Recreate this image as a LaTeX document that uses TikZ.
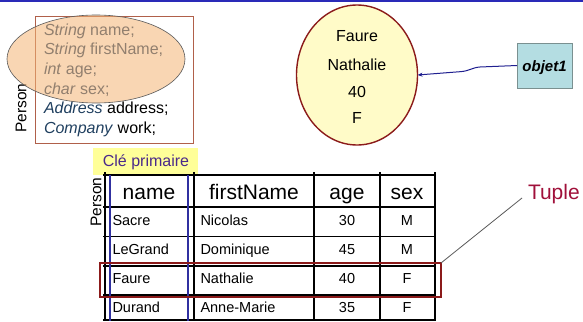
\documentclass[tikz,border=0pt]{standalone}
\usepackage{fontspec}
\setmainfont{Liberation Sans}
\usetikzlibrary{shapes.geometric,arrows.meta}
\definecolor{topblue}{HTML}{2A2AB8}
\definecolor{classbrown}{HTML}{B0604A}
\definecolor{typeblue}{HTML}{1F3F5F}
\definecolor{undertxt}{HTML}{1A3F66}
\definecolor{hlorange}{HTML}{F4B475}
\definecolor{darkred}{HTML}{8B1A1A}
\definecolor{objyellow}{HTML}{FFFBC8}
\definecolor{objteal}{HTML}{B4DDE2}
\definecolor{objborder}{HTML}{7A9090}
\definecolor{arrowblue}{HTML}{202090}
\definecolor{keyyellow}{HTML}{FFFF99}
\definecolor{keypurple}{HTML}{4B2A8A}
\definecolor{tuplered}{HTML}{A0103A}
\definecolor{pkblue}{HTML}{3030A0}
\begin{document}
\begin{tikzpicture}[x=1pt,y=-1pt,
  every node/.style={inner sep=0pt,outer sep=0pt},
  classtxt/.style={anchor=base west,font=\fontsize{16}{18}\selectfont},
  ovaltxt/.style={anchor=base,font=\fontsize{16}{18}\selectfont},
  headtxt/.style={anchor=base,font=\fontsize{21}{24}\selectfont},
  celltxt/.style={anchor=base west,font=\fontsize{14.5}{16}\selectfont},
  cellctr/.style={anchor=base,font=\fontsize{14.5}{16}\selectfont},
  persontxt/.style={rotate=90,font=\fontsize{15.5}{17}\selectfont},
  tline/.style={line width=1.1pt,black},
  pkline/.style={line width=1.3pt,pkblue}]
\useasboundingbox (0,0) rectangle (583,321);
\fill[topblue] (0,0) rectangle (583,2.5);
% class box
\node[draw=classbrown,line width=0.8pt,minimum width=158pt,minimum height=127pt,anchor=north west] (classbox) at (35,16) {};
\node[classtxt,text=undertxt] (c1) at (44,35.5) {\textit{String} name;};
\node[classtxt,text=undertxt] (c2) at (44,55) {\textit{String} firstName;};
\node[classtxt,text=undertxt] (c3) at (44,74.5) {\textit{int} age;};
\node[classtxt,text=undertxt] (c4) at (44,94) {\textit{char} sex;};
\node[classtxt] (c5) at (44,113.5) {\textcolor{typeblue}{\textit{Address}} address;};
\node[classtxt] (c6) at (44,133) {\textcolor{typeblue}{\textit{Company}} work;};
\node[persontxt] (person1) at (21,108) {Person};
\node[ellipse,draw=gray!70!black,line width=0.6pt,fill=hlorange,fill opacity=0.55,minimum width=178pt,minimum height=88pt] (hl) at (96,59) {};
% object
\node[ellipse,draw=darkred,line width=1.4pt,fill=objyellow,minimum width=121pt,minimum height=140pt] (obj) at (357,75) {};
\node[ovaltxt] (o1) at (357,41.7) {Faure};
\node[ovaltxt] (o2) at (357,70.5) {Nathalie};
\node[ovaltxt] (o3) at (357,97) {40};
\node[ovaltxt] (o4) at (357,123.3) {F};
\node[draw=objborder,line width=0.8pt,fill=objteal,minimum width=55pt,minimum height=45pt] (objet) at (544.5,65.5) {};
\node[anchor=base,font=\fontsize{15}{17}\selectfont\bfseries\itshape] (objettxt) at (544.5,71) {objet1};
\draw[arrowblue,line width=1pt,-{Stealth[length=5pt,width=4pt]}] (objet.west) -- (480,67) .. controls (472,67.5) and (470,71) .. (460,71.7) -- (obj.east);
% primary key label
\node[fill=keyyellow,minimum width=105pt,minimum height=27pt,anchor=north west] (keybox) at (93,148) {};
\node[anchor=base,text=keypurple,font=\fontsize{16}{18}\selectfont] (keytxt) at (146,166.7) {Clé primaire};
% table
\foreach \yy in {175,207,236.5,266,295,320} \draw[tline] (103,\yy) -- (435,\yy);
\foreach \xx in {105,194,314,380,435} \draw[tline] (\xx,172) -- (\xx,321);
\draw[pkline] (110,175) -- (110,321);
\draw[pkline] (188,175) -- (188,321);
\node[persontxt] (person2) at (96,202) {Person};
\node[headtxt] (h1) at (149,199) {name};
\node[headtxt] (h2) at (254,199) {firstName};
\node[headtxt] (h3) at (347,199) {age};
\node[headtxt] (h4) at (407,199) {sex};
\node[celltxt] (r1a) at (112.5,225.5) {Sacre};
\node[celltxt] (r1b) at (200.5,225.5) {Nicolas};
\node[cellctr] (r1c) at (347,225.5) {30};
\node[cellctr] (r1d) at (407,225.5) {M};
\node[celltxt] (r2a) at (112.5,254.5) {LeGrand};
\node[celltxt] (r2b) at (200.5,254.5) {Dominique};
\node[cellctr] (r2c) at (347,254.5) {45};
\node[cellctr] (r2d) at (407,254.5) {M};
\node[celltxt] (r3a) at (112.5,283.5) {Faure};
\node[celltxt] (r3b) at (200.5,283.5) {Nathalie};
\node[cellctr] (r3c) at (347,283.5) {40};
\node[cellctr] (r3d) at (407,283.5) {F};
\node[celltxt] (r4a) at (112.5,312) {Durand};
\node[celltxt] (r4b) at (200.5,312) {Anne-Marie};
\node[cellctr] (r4c) at (347,312) {35};
\node[cellctr] (r4d) at (407,312) {F};
% tuple
\node[draw=darkred,line width=1.5pt,minimum width=341pt,minimum height=34pt,anchor=north west] (tuplerow) at (100,263) {};
\node[anchor=base west,text=tuplered,font=\fontsize{21}{24}\selectfont] (tuple) at (528,199.3) {Tuple};
\coordinate (tupleend) at (522,198);
\draw[gray!70!black,line width=0.8pt] (tuplerow.north east) -- (tupleend);
\end{tikzpicture}
\end{document}
